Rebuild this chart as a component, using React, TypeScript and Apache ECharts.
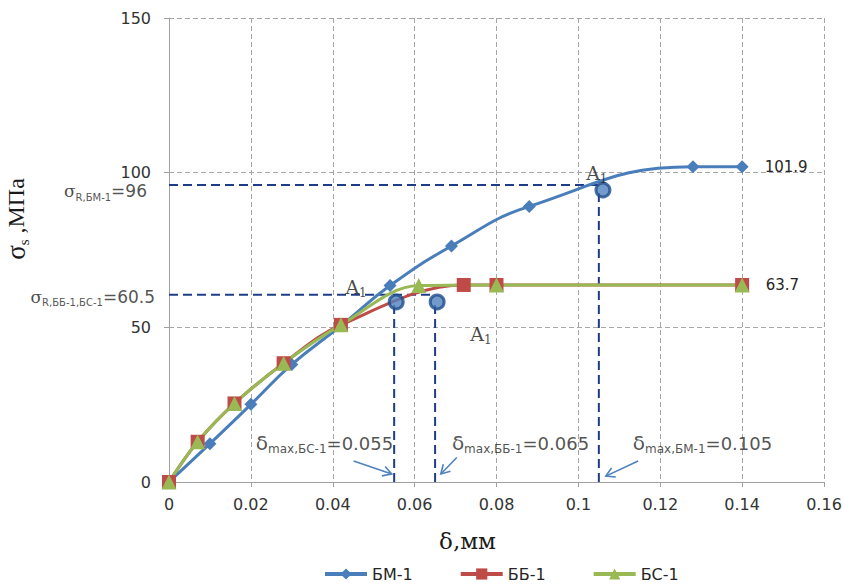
import React, { useEffect, useRef } from 'react';
import * as echarts from 'echarts';

// ---- data ----
const seriesNames = ['БМ-1', 'ББ-1', 'БС-1'];
const bmX = [0, 0.01, 0.02, 0.03, 0.042, 0.054, 0.069, 0.088, 0.128, 0.14];
const bmY = [0, 12.4, 25.1, 38.0, 50.5, 63.5, 76.3, 89.1, 101.9, 101.9];
const bbX = [0, 0.007, 0.016, 0.028, 0.042, 0.072, 0.08, 0.14];
const bbY = [0, 13.0, 25.4, 38.4, 50.8, 63.7, 63.7, 63.7];
const bsX = [0, 0.007, 0.016, 0.028, 0.042, 0.061, 0.08, 0.14];
const bsY = [0, 13.0, 25.4, 38.4, 50.8, 63.5, 63.7, 63.7];

// points A1 (ultimate strength points)
const a1X = [0.0555, 0.0655, 0.106];
const a1Y = [58.2, 58.2, 94.4];
const a1LabelX = [0.0457, 0.0762, 0.1045];
const a1LabelY = [63.0, 47.8, 99.9];

// strength levels & max deformations
const sigmaR = [96, 60.5];
const sigmaRNames = ['R,БМ-1', 'R,ББ-1,БС-1'];
const sigmaREndX = [0.106, 0.065];
const deltaMax = [0.055, 0.065, 0.105];
const deltaMaxTopY = [58.2, 58.2, 94.4];
const deltaNames = ['max,БС-1', 'max,ББ-1', 'max,БМ-1'];
const deltaLabelX = [0.0212, 0.0691, 0.1133];
const deltaLabelY = 12.6;
const arrowFrom = [[0.0451, 6.8], [0.0703, 7.9], [0.1146, 6.8]];
const arrowTo = [[0.0544, 2.6], [0.0664, 2.6], [0.1067, 1.9]];

const xTicks = { min: 0, max: 0.16, interval: 0.02 };
const yTicks = { min: 0, max: 150, interval: 50 };

const COLORS = ['#4A7EBB', '#BE4B48', '#98B954'];
const GUIDE = '#1F3C88';
const SANS = 'DejaVu Sans';
const SERIF = 'Liberation Serif';
const SERIF2 = 'DejaVu Serif';
const TXT = '#262626';

const zip = (xs: number[], ys: number[]) => xs.map((x, i) => [x, ys[i]]);

export default function App() {
  const ref = useRef<HTMLDivElement>(null);
  useEffect(() => {
    document.body.style.margin = '0';
    const chart = echarts.init(ref.current!, null, { renderer: 'svg' });

    const lastLabel = (n: number) => ({
      show: true,
      position: 'right',
      distance: 16,
      color: TXT,
      fontFamily: SANS,
      fontSize: 15,
      formatter: (p: any) => (p.dataIndex === n - 1 ? String(p.value[1]) : ''),
    });

    const mainSeries: any[] = [
      {
        name: seriesNames[0], type: 'line', smooth: 0.45, smoothConstraint: false, data: zip(bmX, bmY),
        symbol: 'diamond', symbolSize: 13, color: COLORS[0],
        lineStyle: { width: 3, color: COLORS[0] }, itemStyle: { color: COLORS[0] },
        label: lastLabel(bmX.length), z: 3,
      },
      {
        name: seriesNames[1], type: 'line', smooth: 0.35, data: zip(bbX, bbY),
        symbol: 'rect', symbolSize: 14, color: COLORS[1],
        lineStyle: { width: 3, color: COLORS[1] }, itemStyle: { color: COLORS[1] }, z: 3,
      },
      {
        name: seriesNames[2], type: 'line', smooth: 0.35, data: zip(bsX, bsY),
        symbol: 'triangle', symbolSize: 15, color: COLORS[2],
        lineStyle: { width: 3, color: COLORS[2] }, itemStyle: { color: COLORS[2] },
        label: lastLabel(bsX.length), z: 3,
      },
    ];

    const guideStyle = { width: 2, color: GUIDE, type: [9, 5] };
    const guides: any[] = [
      ...sigmaR.map((s, i) => ({
        type: 'line', data: [[0, s], [sigmaREndX[i], s]], symbol: 'none', silent: true,
        lineStyle: guideStyle, z: 2,
      })),
      ...deltaMax.map((d, i) => ({
        type: 'line', data: [[d, 0], [d, deltaMaxTopY[i]]], symbol: 'none', silent: true,
        lineStyle: guideStyle, z: 2,
      })),
    ];

    const subRich = {
      a: { fontFamily: SERIF2, fontSize: 19, color: '#1a1a1a', lineHeight: 24 },
      s: { fontFamily: SERIF2, fontSize: 12, color: '#1a1a1a', lineHeight: 12, verticalAlign: 'bottom' },
    };

    const extra: any[] = [
      {
        type: 'scatter', data: zip(a1X, a1Y), symbol: 'circle', symbolSize: 14, silent: true,
        itemStyle: { color: '#4F81BD', borderColor: '#1F4E8C', borderWidth: 3 }, z: 5,
      },
      {
        type: 'scatter', data: zip(a1LabelX, a1LabelY), symbolSize: 0, silent: true,
        label: { show: true, position: 'inside', formatter: '{a|A}{s|1}', rich: subRich },
        z: 6,
      },
      {
        type: 'scatter', data: sigmaR.map((s, i) => ({
          value: [0, s],
          label: {
            formatter: `{g|σ}{s|${sigmaRNames[i]}}{n|=${s}}`,
            distance: i === 0 ? 22 : 14,
            offset: [0, i === 0 ? 6 : 2],
          },
        })),
        symbolSize: 0, silent: true,
        label: {
          show: true, position: 'left',
          rich: {
            g: { fontFamily: SERIF2, fontSize: 17, color: '#1a1a1a', lineHeight: 22 },
            s: { fontFamily: SANS, fontSize: 10, color: TXT, lineHeight: 10, verticalAlign: 'bottom' },
            n: { fontFamily: SANS, fontSize: 17, color: TXT, lineHeight: 22 },
          },
        },
      },
      {
        type: 'scatter', data: deltaMax.map((d, i) => ({
          value: [deltaLabelX[i], deltaLabelY],
          label: { formatter: `{d|δ}{s|${deltaNames[i]}}{n|=${d}}` },
        })),
        symbolSize: 0, silent: true,
        label: {
          show: true, position: 'right', distance: 0,
          rich: {
            d: { fontFamily: SANS, fontSize: 20, color: TXT, lineHeight: 24 },
            s: { fontFamily: SANS, fontSize: 12, color: TXT, lineHeight: 12, verticalAlign: 'bottom' },
            n: { fontFamily: SANS, fontSize: 18, color: TXT, lineHeight: 24 },
          },
        },
      },
    ];

    const axisCommon = {
      axisLine: { show: true, lineStyle: { color: '#A0A0A0', width: 1 } },
      axisTick: { show: true, length: 5, lineStyle: { color: '#A0A0A0' } },
      splitLine: { show: true, lineStyle: { color: '#A6A6A6', type: [5, 3], width: 1 } },
      axisLabel: { fontFamily: SANS, fontSize: 16, color: '#333' },
    };

    chart.setOption({
      animation: false,
      grid: { left: 169, right: 20, top: 18, bottom: 103, containLabel: false, outerBoundsMode: 'none' },
      xAxis: {
        type: 'value', ...xTicks, ...axisCommon,
        axisLabel: { ...axisCommon.axisLabel, margin: 14 },
        name: 'δ,мм', nameLocation: 'middle', nameGap: 47,
        nameTextStyle: { fontFamily: SERIF2, fontSize: 23, color: '#1a1a1a', padding: [0, 58, 0, 0] },
      },
      yAxis: {
        type: 'value', ...yTicks, ...axisCommon,
        axisLabel: { ...axisCommon.axisLabel, margin: 18 },
        name: '{g|σ}{s|s}{n| ,МПа}', nameLocation: 'middle', nameGap: 138,
        nameTextStyle: {
          padding: [0, 0, 0, 62],
          rich: {
            g: { fontFamily: SERIF, fontSize: 27, color: '#1a1a1a', lineHeight: 30 },
            s: { fontFamily: SERIF, fontSize: 15, color: '#1a1a1a', lineHeight: 15, verticalAlign: 'bottom' },
            n: { fontFamily: SERIF, fontSize: 24, color: '#1a1a1a', lineHeight: 30 },
          },
        },
      },
      legend: {
        data: seriesNames, left: 323, bottom: 3, padding: 0, itemWidth: 42, itemHeight: 14, itemGap: 46,
        lineStyle: { width: 4 },
        textStyle: { fontFamily: SANS, fontSize: 16, color: TXT },
      },
      series: [...mainSeries, ...guides, ...extra],
    });

    const px = (p: number[]) => chart.convertToPixel({ gridIndex: 0 }, p) as number[];
    const arrows: any[] = [];
    arrowFrom.forEach((f, i) => {
      const p1 = px(f);
      const p2 = px(arrowTo[i]);
      const dx = p2[0] - p1[0], dy = p2[1] - p1[1];
      const L = Math.hypot(dx, dy);
      const ux = dx / L, uy = dy / L;
      const head = 10, ang = (30 * Math.PI) / 180;
      const rot = (a: number) => [
        p2[0] - head * (ux * Math.cos(a) - uy * Math.sin(a)),
        p2[1] - head * (ux * Math.sin(a) + uy * Math.cos(a)),
      ];
      const style = { stroke: '#4F81BD', lineWidth: 1.6, fill: null };
      arrows.push({ type: 'polyline', shape: { points: [p1, p2] }, style, z: 10 });
      arrows.push({ type: 'polyline', shape: { points: [rot(ang), p2, rot(-ang)] }, style, z: 10 });
    });
    chart.setOption({ graphic: arrows });

    return () => chart.dispose();
  }, []);
  return <div ref={ref} style={{ width: 844, height: 585 }} />;
}
